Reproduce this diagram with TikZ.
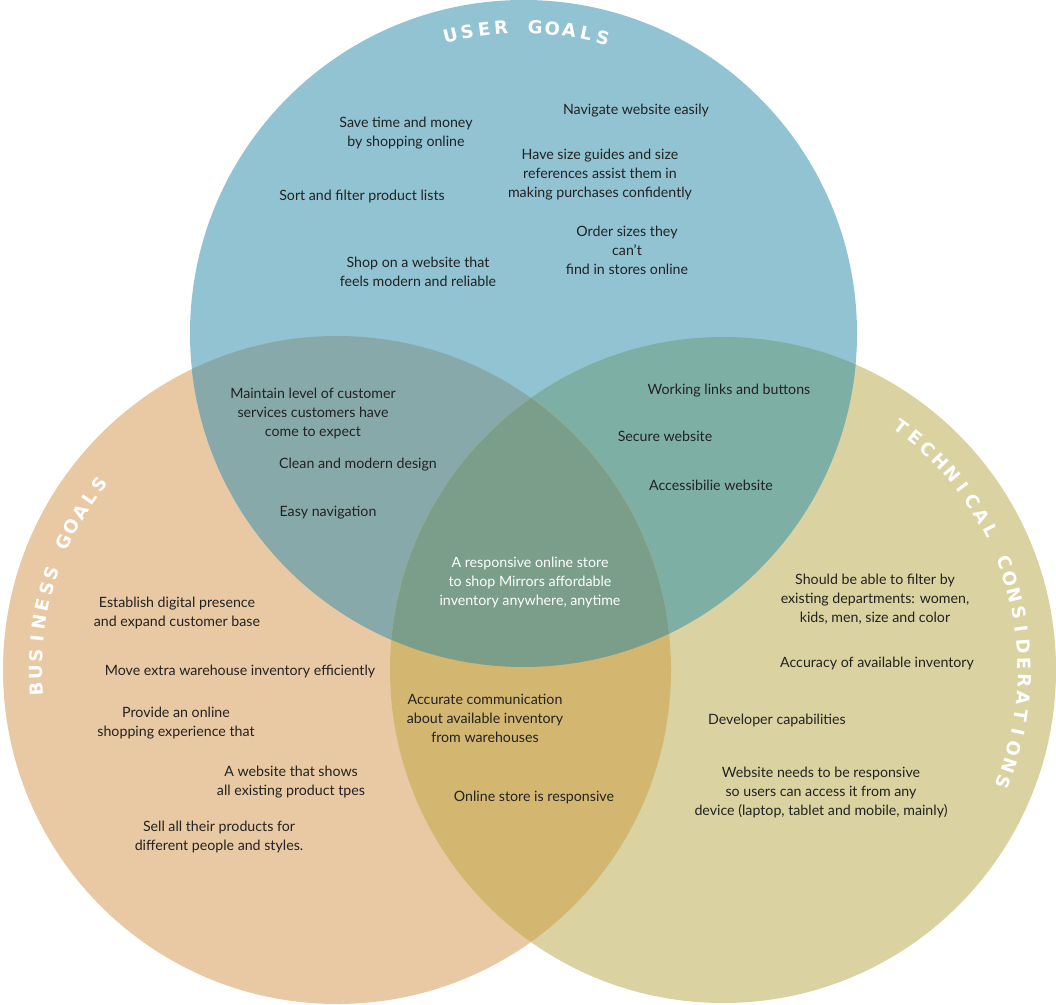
\documentclass[tikz,border=0pt]{standalone}
\usepackage{fontspec}
\setmainfont{Lato}
\newfontfamily\hdrfam{DejaVu Sans}
\usetikzlibrary{calc}
\definecolor{cBl}{HTML}{91C3D3}
\definecolor{cOr}{HTML}{E8C9A3}
\definecolor{cYe}{HTML}{DAD2A0}
\definecolor{cBO}{HTML}{88A9A9}
\definecolor{cBY}{HTML}{7EAFA4}
\definecolor{cOY}{HTML}{D3B771}
\definecolor{cAll}{HTML}{7A9E8A}
\definecolor{txtc}{HTML}{222222}
\begin{document}
\begin{tikzpicture}[x=1pt,y=1pt,
  txt/.style={align=center, font=\fontsize{14.2}{19}\selectfont, text=txtc, inner sep=0pt},
  hdrch/.style={font=\hdrfam\bfseries\fontsize{18}{18}\selectfont, text=white, inner sep=0pt, anchor=base}]
\useasboundingbox (0,0) rectangle (1056,1004);
\coordinate (cB) at (523.5,670.5);
\coordinate (cO) at (337,334);
\coordinate (cY) at (723,334);
% single circles
\fill[cOr] (cO) circle[radius=334];
\fill[cYe] (cY) circle[radius=333];
\fill[cBl] (cB) circle[radius=333.5];
% pairwise overlaps
\begin{scope}
  \clip (cO) circle[radius=334];
  \fill[cBO] (cB) circle[radius=333.5];
\end{scope}
\begin{scope}
  \clip (cY) circle[radius=333];
  \fill[cBY] (cB) circle[radius=333.5];
\end{scope}
\begin{scope}
  \clip (cO) circle[radius=334];
  \fill[cOY] (cY) circle[radius=333];
\end{scope}
\begin{scope}
  \clip (cO) circle[radius=334];
  \clip (cB) circle[radius=333.5];
  \fill[cAll] (cY) circle[radius=333];
\end{scope}
% headers, one letter per node along each circle
\foreach \ch [count=\i from 0] in {U,S,E,R,,G,O,A,L,S}{
  \pgfmathsetmacro\ang{103.8-3.2*\i}
  \node[hdrch, rotate=\ang-90] (hu\i) at ($(cB)+(\ang:300)$) {\ch};
}
\foreach \ch [count=\i from 0] in {B,U,S,I,N,E,S,S,,G,O,A,L,S}{
  \pgfmathsetmacro\ang{183.6-3.2*\i}
  \node[hdrch, rotate=\ang-90] (hb\i) at ($(cO)+(\ang:295)$) {\ch};
}
\foreach \ch [count=\i from 0] in {T,E,C,H,N,I,C,A,L,,C,O,N,S,I,D,E,R,A,T,I,O,N,S}{
  \pgfmathsetmacro\ang{53.7-3.28*\i}
  \node[hdrch, rotate=\ang-90] (ht\i) at ($(cY)+(\ang:295)$) {\ch};
}
% user goals
\node[txt] (n1) at (406,871) {Save time and money\\by shopping online};
\node[txt] (n2) at (636,893) {Navigate website easily};
\node[txt] (n3) at (600,829) {Have size guides and size\\references assist them in\\making purchases confidently};
\node[txt] (n4) at (362,808) {Sort and filter product lists};
\node[txt] (n5) at (627,754) {Order sizes they\\can’t\\find in stores online};
\node[txt] (n6) at (418,732) {Shop on a website that\\feels modern and reliable};
% user + business
\node[txt] (n7) at (313,591) {Maintain level of customer\\services customers have\\come to expect};
\node[txt] (n8) at (358,539) {Clean and modern design};
\node[txt] (n9) at (328,491) {Easy navigation};
% user + technical
\node[txt] (n10) at (729,613) {Working links and buttons};
\node[txt] (n11) at (665,568) {Secure website};
\node[txt] (n12) at (711,519) {Accessibilie website};
% center
\node[txt, text=white] (n13) at (530,422) {A responsive online store\\to shop Mirrors affordable\\inventory anywhere, anytime};
% business
\node[txt] (n14) at (177,391) {Establish digital presence\\and expand customer base};
\node[txt] (n15) at (240,333) {Move extra warehouse inventory efficiently};
\node[txt] (n16) at (176,281) {Provide an online\\shopping experience that};
\node[txt] (n17) at (291,222) {A website that shows\\all existing product tpes};
\node[txt] (n18) at (219,167) {Sell all their products for\\different people and styles.};
% business + technical
\node[txt] (n19) at (485,286) {Accurate communication\\about available inventory\\from warehouses};
\node[txt] (n20) at (534,207) {Online store is responsive};
% technical
\node[txt] (n21) at (875,405) {Should be able to filter by\\existing departments: women,\\kids, men, size and color};
\node[txt] (n22) at (877,341) {Accuracy of available inventory};
\node[txt] (n23) at (777,284) {Developer capabilities};
\node[txt] (n24) at (821,212) {Website needs to be responsive\\so users can access it from any\\device (laptop, tablet and mobile, mainly)};
\end{tikzpicture}
\end{document}
